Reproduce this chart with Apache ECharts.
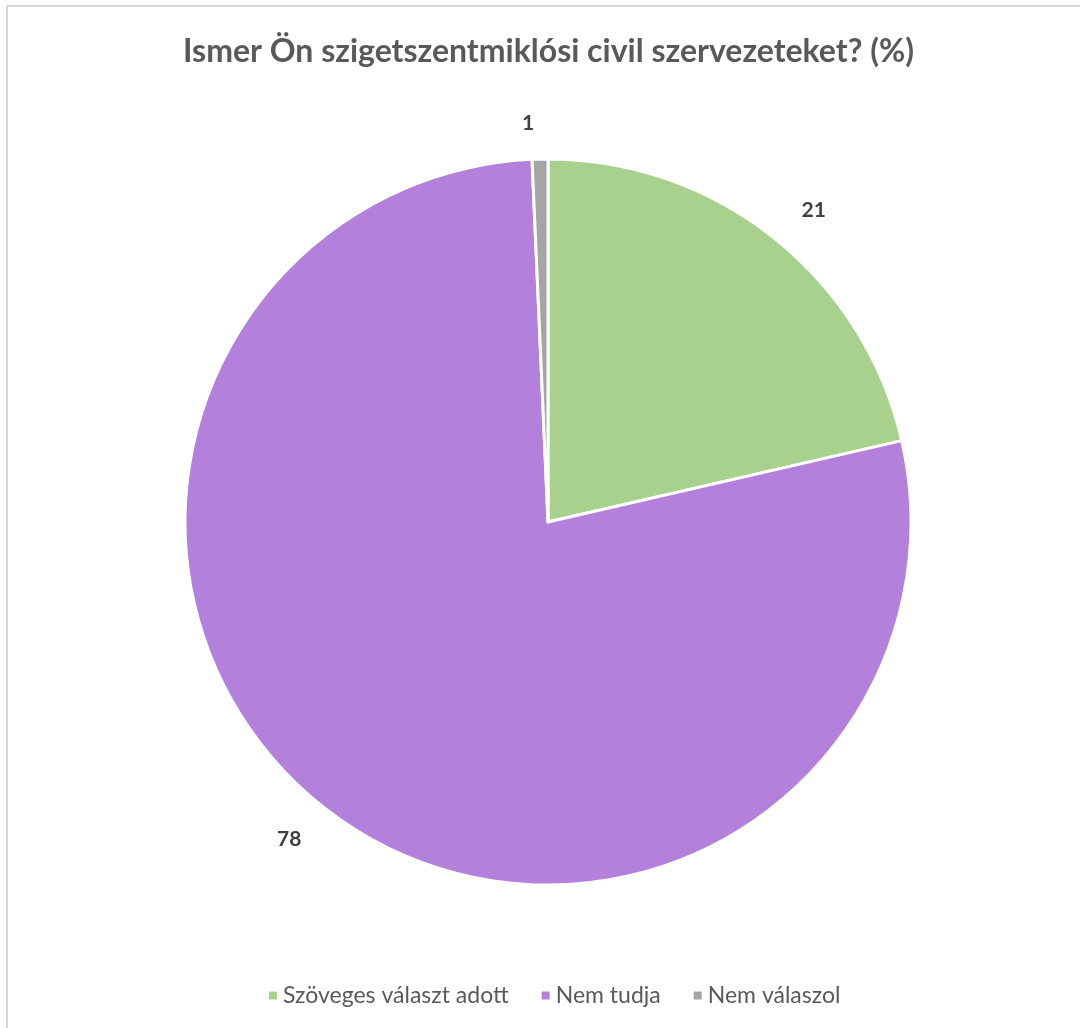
<!DOCTYPE html>
<html>
<head>
<meta charset="utf-8">
<script src="https://cdn.jsdelivr.net/npm/echarts@6/dist/echarts.min.js"></script>
<style>
  html, body { margin: 0; padding: 0; background: #fff; }
  #chart { width: 1080px; height: 1028px; }
</style>
</head>
<body>
<div id="chart"></div>
<script>
var categories = ['Szöveges választ adott', 'Nem tudja', 'Nem válaszol'];
var values = [21.4, 77.9, 0.7];
var colors = ['#a9d18e', '#b381db', '#a5a5a5'];

var pieData = categories.map(function(name, i) {
    return { name: name, value: values[i], itemStyle: { color: colors[i] } };
});

var myChart = echarts.init(document.getElementById('chart'));
myChart.setOption({
    backgroundColor: '#fff',
    title: {
        text: 'Ismer Ön szigetszentmiklósi civil szervezeteket? (%)',
        left: 178,
        top: 31,
        textStyle: {
            fontFamily: 'Lato',
            fontSize: 32,
            fontWeight: 'bold',
            color: '#595959'
        }
    },
    legend: {
        bottom: 16,
        left: 262,
        itemWidth: 10,
        itemHeight: 10,
        itemGap: 31,
        icon: 'rect',
        textStyle: {
            fontFamily: 'Lato',
            fontSize: 23,
            color: '#595959'
        },
        data: categories
    },
    graphic: [{
        type: 'rect',
        shape: { x: 7, y: 6, width: 1200, height: 1200 },
        style: { fill: 'none', stroke: '#d9d9d9', lineWidth: 2 },
        silent: true
    }],
    series: [{
        name: 'Ismer',
        type: 'pie',
        center: [548, 522],
        radius: [0, 363],
        startAngle: 90,
        clockwise: true,
        avoidLabelOverlap: false,
        itemStyle: { borderColor: '#fff', borderWidth: 3 },
        label: {
            show: true,
            position: 'outside',
            fontFamily: 'Lato',
            fontSize: 21,
            fontWeight: 'bold',
            color: '#404040',
            formatter: function(p) { return Math.round(p.value); }
        },
        labelLine: { show: false, length: 36, length2: 0 },
        emphasis: { disabled: true },
        data: pieData
    }]
});
</script>
</body>
</html>
